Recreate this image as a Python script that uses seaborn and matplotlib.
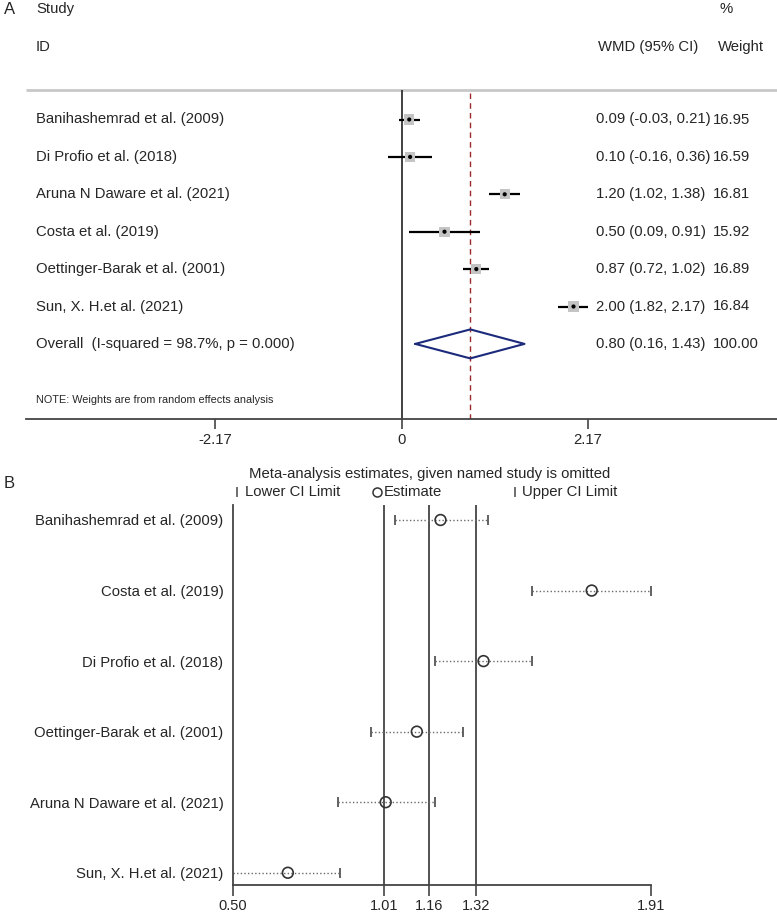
import numpy as np
import pandas as pd
import matplotlib
matplotlib.use("Agg")
import matplotlib.pyplot as plt
from matplotlib.lines import Line2D
import seaborn as sns

# ---------------- data: panel A (forest plot) ----------------
studies_a = ["Banihashemrad et al. (2009)", "Di Profio et al. (2018)",
             "Aruna N Daware et al. (2021)", "Costa et al. (2019)",
             "Oettinger-Barak et al. (2001)", "Sun, X. H.et al. (2021)"]
wmd = [0.09, 0.10, 1.20, 0.50, 0.87, 2.00]
wmd_lo = [-0.03, -0.16, 1.02, 0.09, 0.72, 1.82]
wmd_hi = [0.21, 0.36, 1.38, 0.91, 1.02, 2.17]
weights = [16.95, 16.59, 16.81, 15.92, 16.89, 16.84]
overall_label = "Overall  (I-squared = 98.7%, p = 0.000)"
overall_est, overall_lo, overall_hi, overall_w = 0.80, 0.16, 1.43, 100.00
ticks_a = [-2.17, 0, 2.17]
ticklabels_a = ["-2.17", "0", "2.17"]

# ---------------- data: panel B (leave-one-out) ----------------
studies_b = ["Banihashemrad et al. (2009)", "Costa et al. (2019)",
             "Di Profio et al. (2018)", "Oettinger-Barak et al. (2001)",
             "Aruna N Daware et al. (2021)", "Sun, X. H.et al. (2021)"]
est_b = [1.20, 1.71, 1.345, 1.12, 1.015, 0.685]
lo_b = [1.045, 1.51, 1.18, 0.965, 0.855, 0.50]
hi_b = [1.36, 1.91, 1.51, 1.275, 1.18, 0.86]
ref_lines_b = [1.01, 1.16, 1.32]
ticks_b = [0.50, 1.01, 1.16, 1.32, 1.91]

# ---------------- style ----------------
sns.set_style("white")
plt.rcParams['font.family'] = ['Liberation Sans', 'DejaVu Sans']
FS = 10.7

W, H = 777, 915
fig = plt.figure(figsize=(W / 100, H / 100), dpi=100)


def fx(x):
    return x / W


def fy(y):
    return 1 - y / H


# ================= Panel A =================
AX_B = 419
ax1 = fig.add_axes([0, fy(AX_B), 1, AX_B / H])
k1 = 86.0                   # px per unit
x0 = 401.5                  # px of zero
ax1.set_xlim(-x0 / k1, (W - x0) / k1)
r0, dr = 119.5, 37.4
ax1.set_ylim((AX_B - r0) / dr, -r0 / dr)


def prow(p):
    return (p - r0) / dr


df_a = pd.DataFrame({"study": studies_a, "wmd": wmd, "lo": wmd_lo,
                     "hi": wmd_hi, "w": weights,
                     "row": np.arange(len(studies_a), dtype=float)})

# header separator & reference lines
x_right = (W - x0) / k1
x_start = (26 - x0) / k1
ax1.hlines(prow(90), x_start, x_right, color="#c8c8c8", lw=2)
ax1.vlines(0, prow(90), prow(AX_B), color="#333333", lw=1.3)
ax1.vlines(overall_est, prow(93), prow(AX_B), color="#9b2a2a", lw=1.0,
           linestyles=(0, (4, 3)))

# CI lines and boxes
ax1.hlines(df_a["row"], df_a["lo"], df_a["hi"], color="black", lw=1.6)
sns.scatterplot(data=df_a, x="wmd", y="row", marker="s", s=55,
                color="#c4c4c4", edgecolor="none", ax=ax1, legend=False,
                zorder=3)
sns.scatterplot(data=df_a, x="wmd", y="row", marker="o", s=9,
                color="black", edgecolor="none", ax=ax1, legend=False,
                zorder=4)

# overall diamond
orow = len(studies_a)
h = 14.5 / dr
ax1.plot([overall_lo, overall_est, overall_hi, overall_est, overall_lo],
         [orow, orow - h, orow, orow + h, orow], color="#1c2a7c", lw=1.5,
         zorder=3)

ax1.set_xlabel("")
ax1.set_ylabel("")
ax1.set_yticks([])
ax1.set_xticks(ticks_a)
ax1.set_xticklabels(ticklabels_a, fontsize=FS)
ax1.tick_params(axis="x", length=7, width=1.2, color="#444444", pad=3,
                direction="out", bottom=True)
for s in ["top", "right", "left"]:
    ax1.spines[s].set_visible(False)
ax1.spines["bottom"].set_color("#444444")
ax1.spines["bottom"].set_linewidth(1.3)
ax1.spines["bottom"].set_bounds(x_start, x_right)
ax1.patch.set_alpha(0)

# texts panel A
fig.text(fx(4), fy(9), "A", fontsize=12, va="center", ha="left")
fig.text(fx(36), fy(9), "Study", fontsize=FS, va="center")
fig.text(fx(36), fy(47), "ID", fontsize=FS, va="center")
fig.text(fx(720), fy(9), "%", fontsize=FS, va="center")
fig.text(fx(598), fy(47), "WMD (95% CI)", fontsize=FS, va="center")
fig.text(fx(718), fy(47), "Weight", fontsize=FS, va="center")
for i, row in df_a.iterrows():
    yy = r0 + dr * row["row"]
    fig.text(fx(36), fy(yy), row["study"], fontsize=FS, va="center")
    fig.text(fx(596), fy(yy),
             f"{row['wmd']:.2f} ({row['lo']:.2f}, {row['hi']:.2f})",
             fontsize=FS, va="center")
    fig.text(fx(713), fy(yy), f"{row['w']:.2f}", fontsize=FS, va="center")
yy = r0 + dr * orow
fig.text(fx(36), fy(yy), overall_label, fontsize=FS, va="center")
fig.text(fx(596), fy(yy),
         f"{overall_est:.2f} ({overall_lo:.2f}, {overall_hi:.2f})",
         fontsize=FS, va="center")
fig.text(fx(713), fy(yy), f"{overall_w:.2f}", fontsize=FS, va="center")
fig.text(fx(36), fy(400), "NOTE: Weights are from random effects analysis",
         fontsize=7.8, va="center")

# ================= Panel B =================
top_b, bot_b = 505, 885
ax2 = fig.add_axes([fx(233), fy(bot_b), (651 - 233) / W, (bot_b - top_b) / H])
rb0, drb = 520.0, 70.55
ax2.set_xlim(0.50, 1.91)
ax2.set_ylim((bot_b - rb0) / drb, (top_b - rb0) / drb)

df_b = pd.DataFrame({"study": studies_b, "est": est_b, "lo": lo_b,
                     "hi": hi_b, "row": np.arange(len(studies_b), dtype=float)})

for v in ref_lines_b:
    ax2.axvline(v, color="#444444", lw=1.3, zorder=1)
ax2.hlines(df_b["row"], df_b["lo"], df_b["hi"], color="#6a6a6a", lw=1.0,
           linestyles=(0, (1, 1.6)), zorder=2)
df_caps = pd.DataFrame({"x": list(df_b["lo"]) + list(df_b["hi"]),
                        "row": list(df_b["row"]) * 2})
sns.scatterplot(data=df_caps, x="x", y="row", marker="|", s=55,
                color="#555555", linewidth=1.3, ax=ax2, legend=False,
                zorder=3, clip_on=False)
sns.scatterplot(data=df_b, x="est", y="row", marker="o", s=60, ax=ax2,
                legend=False, zorder=4, clip_on=False)
coll = ax2.collections[-1]
coll.set_facecolor("none")
coll.set_edgecolor("#333333")
coll.set_linewidth(1.2)

ax2.set_xlabel("")
ax2.set_ylabel("")
ax2.set_xticks(ticks_b)
ax2.set_xticklabels([f"{t:.2f}" for t in ticks_b], fontsize=10.5)
ax2.set_yticks(df_b["row"])
ax2.set_yticklabels(studies_b, fontsize=FS)
ax2.tick_params(axis="x", length=8, width=1.2, color="#444444", pad=2,
                direction="out", bottom=True)
ax2.tick_params(axis="y", length=0, pad=7)
for s in ["top", "right"]:
    ax2.spines[s].set_visible(False)
for s in ["left", "bottom"]:
    ax2.spines[s].set_color("#444444")
    ax2.spines[s].set_linewidth(1.3)
ax2.patch.set_alpha(0)

# legend / title panel B
fig.text(fx(4), fy(483), "B", fontsize=12, va="center", ha="left")
fig.text(fx(430), fy(474), "Meta-analysis estimates, given named study is omitted",
         fontsize=FS, ha="center", va="center")
leg_y = fy(492)
fig.add_artist(Line2D([fx(237)], [leg_y], marker="|", markersize=7,
                      color="#555555", mew=1.2, transform=fig.transFigure))
fig.text(fx(245), leg_y, "Lower CI Limit", fontsize=FS, va="center")
fig.add_artist(Line2D([fx(377)], [leg_y], marker="o", markersize=6.5,
                      mfc="none", mec="#333333", mew=1.1,
                      transform=fig.transFigure))
fig.text(fx(384), leg_y, "Estimate", fontsize=FS, va="center")
fig.add_artist(Line2D([fx(515)], [leg_y], marker="|", markersize=7,
                      color="#555555", mew=1.2, transform=fig.transFigure))
fig.text(fx(522), leg_y, "Upper CI Limit", fontsize=FS, va="center")

fig.savefig("out.png", dpi=100)
